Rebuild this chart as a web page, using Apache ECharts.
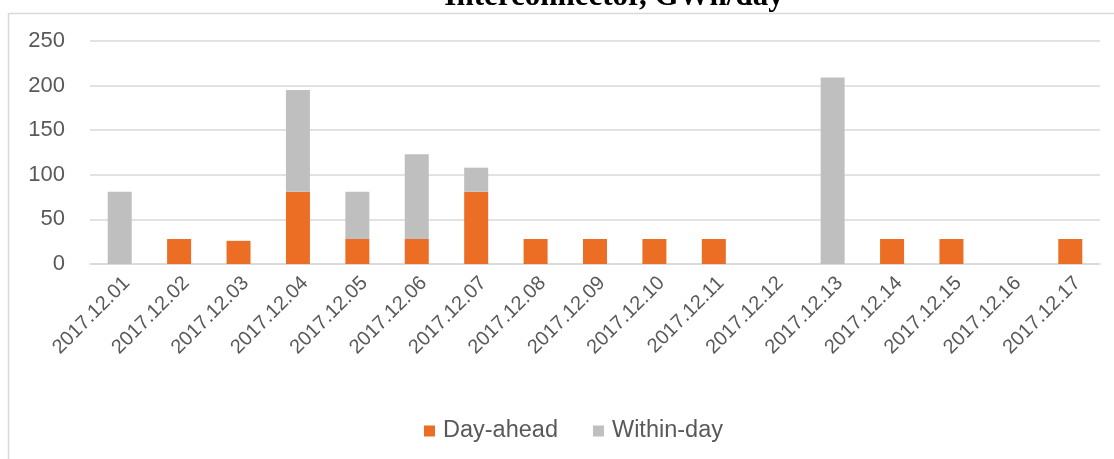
<!DOCTYPE html>
<html>
<head>
<meta charset="utf-8">
<script src="https://cdn.jsdelivr.net/npm/echarts@6/dist/echarts.min.js"></script>
<style>
html,body{margin:0;padding:0;background:#fff;}
#chart{width:1114px;height:459px;}
</style>
</head>
<body>
<div id="chart"></div>
<script>
const titleText = 'Interconnector, GWh/day';
const categories = ['2017.12.01','2017.12.02','2017.12.03','2017.12.04','2017.12.05','2017.12.06','2017.12.07','2017.12.08','2017.12.09','2017.12.10','2017.12.11','2017.12.12','2017.12.13','2017.12.14','2017.12.15','2017.12.16','2017.12.17'];
const dayAhead = [0,28,26,81,28,28,81,28,28,28,28,0,0,28,28,0,28];
const withinDay = [81,0,0,114,53,95,27,0,0,0,0,0,209,0,0,0,0];
const yTicks = [0,50,100,150,200,250];

const chart = echarts.init(document.getElementById('chart'), null, {renderer:'canvas'});
const labelColor = '#595959';
const font = 'Liberation Sans, Arial, sans-serif';
chart.setOption({
  animation:false,
  backgroundColor:'#fff',
  graphic:[
    {type:'rect', shape:{x:8.5,y:13.5,width:1200,height:600}, style:{fill:'none', stroke:'#d9d9d9', lineWidth:1.5}, z:-10},
    {type:'text', x:614, y:-3.5, style:{text:titleText, font:'bold 31px "Liberation Serif", "Times New Roman", serif', fill:'#000', textAlign:'center', textVerticalAlign:'middle'}}
  ],
  grid:{left:90, right:14, top:41, bottom:195, containLabel:false},
  legend:{
    left:424, top:419, padding:0,
    itemWidth:11, itemHeight:11, itemGap:35,
    icon:'rect',
    textStyle:{color:labelColor, fontSize:23.5, fontFamily:font, padding:[0,0,0,3]},
    data:['Day-ahead','Within-day']
  },
  xAxis:{
    type:'category', data:categories,
    axisLine:{lineStyle:{color:'#d9d9d9', width:1.5}},
    axisTick:{show:false},
    axisLabel:{rotate:45, interval:0, color:labelColor, fontSize:20, fontFamily:font, margin:9, verticalAlign:'top'}
  },
  yAxis:{
    type:'value', min:0, max:250, interval:50,
    axisLine:{show:false}, axisTick:{show:false},
    splitLine:{lineStyle:{color:'#d9d9d9', width:1.5}},
    axisLabel:{color:labelColor, fontSize:22, fontFamily:font, margin:25,
      formatter:function(v){return yTicks.indexOf(v)>=0 ? String(v) : '';}}
  },
  series:[
    {name:'Day-ahead', type:'bar', stack:'t', data:dayAhead, barWidth:24, itemStyle:{color:'#EB6E24'}},
    {name:'Within-day', type:'bar', stack:'t', data:withinDay, barWidth:24, itemStyle:{color:'#BFBFBF'}}
  ]
});
</script>
</body>
</html>
